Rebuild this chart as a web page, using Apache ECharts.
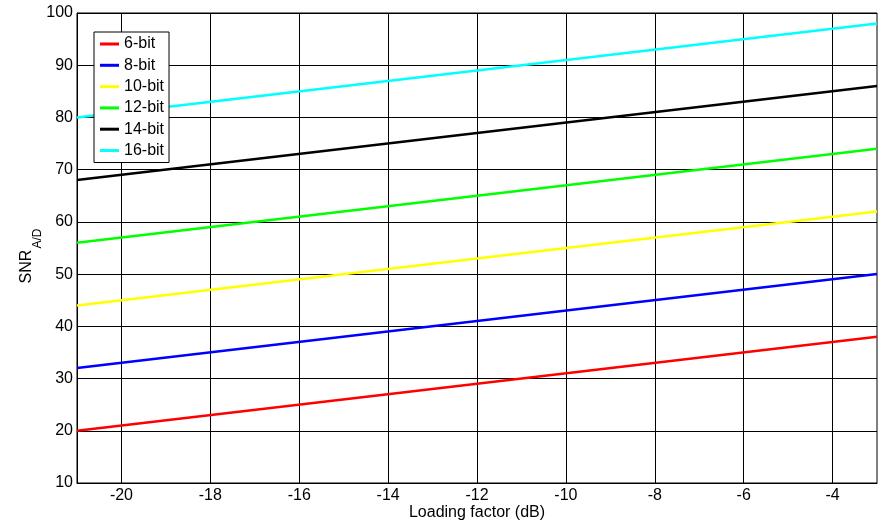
<!DOCTYPE html>
<html>
<head>
<meta charset="utf-8">
<script src="https://cdn.jsdelivr.net/npm/echarts@6/dist/echarts.min.js"></script>
<style>html,body{margin:0;padding:0;background:#fff}#c{width:881px;height:523px}</style>
</head>
<body>
<div id="c"></div>
<script>
const seriesNames = ['6-bit', '8-bit', '10-bit', '12-bit', '14-bit', '16-bit'];
const seriesColors = ['#ff0000', '#0000ff', '#ffff00', '#00ff00', '#000000', '#00ffff'];
const loadingFactor = [-21, -3];
const snr6 = [20, 38];
const snr8 = [32, 50];
const snr10 = [44, 62];
const snr12 = [56, 74];
const snr14 = [68, 86];
const snr16 = [80, 98];
const xTicks = [-20, -18, -16, -14, -12, -10, -8, -6, -4];
const allValues = [snr6, snr8, snr10, snr12, snr14, snr16];

const font = 'Arial, "Liberation Sans", sans-serif';
const chart = echarts.init(document.getElementById('c'), null, {renderer: 'canvas'});
chart.setOption({
  animation: false,
  backgroundColor: '#fff',
  grid: {left: 77, right: 4, top: 13, bottom: 40, show: true, borderColor: '#000', borderWidth: 1,
         backgroundColor: 'transparent', containLabel: false, outerBoundsMode: 'none'},
  legend: {
    orient: 'vertical', left: 94, top: 32,
    backgroundColor: '#fff', borderColor: '#000', borderWidth: 1,
    padding: [3, 5, 3, 6],
    itemWidth: 19, itemHeight: 3, itemGap: 3.3, icon: 'rect',
    textStyle: {fontSize: 16, fontFamily: font, color: '#000', lineHeight: 18},
    data: seriesNames
  },
  xAxis: {
    type: 'value', min: -21, max: -3,
    name: 'Loading factor (dB)', nameLocation: 'middle', nameGap: 22, nameMoveOverlap: false,
    nameTextStyle: {fontSize: 16, fontFamily: font, color: '#000'},
    axisLine: {show: true, onZero: false, lineStyle: {color: '#000', width: 1}},
    axisTick: {show: true, inside: true, length: 4, customValues: xTicks, lineStyle: {color: '#000'}},
    axisLabel: {fontSize: 16, fontFamily: font, color: '#000', margin: 5, customValues: xTicks},
    splitLine: {show: true, lineStyle: {color: '#000', width: 1}}
  },
  yAxis: {
    type: 'value', min: 10, max: 100, interval: 10,
    name: '{a|SNR}{b|A/D}', nameLocation: 'middle', nameGap: 33, nameRotate: 90, nameMoveOverlap: false,
    nameTextStyle: {
      fontSize: 16, fontFamily: font, color: '#000', padding: [0, 16, 0, 0],
      rich: {
        a: {fontSize: 16, fontFamily: font, color: '#000'},
        b: {fontSize: 12, fontFamily: font, color: '#000', padding: [22, 0, 0, 1]}
      }
    },
    axisLine: {show: true, lineStyle: {color: '#000', width: 1}},
    axisTick: {show: true, inside: true, length: 4, lineStyle: {color: '#000'}},
    axisLabel: {fontSize: 16, fontFamily: font, color: '#000', margin: 4},
    splitLine: {show: true, lineStyle: {color: '#000', width: 1}}
  },
  series: seriesNames.map((n, i) => ({
    name: n, type: 'line', showSymbol: false, symbol: 'none',
    color: seriesColors[i],
    lineStyle: {width: 2.5, color: seriesColors[i]},
    data: loadingFactor.map((x, j) => [x, allValues[i][j]])
  }))
});
</script>
</body>
</html>
